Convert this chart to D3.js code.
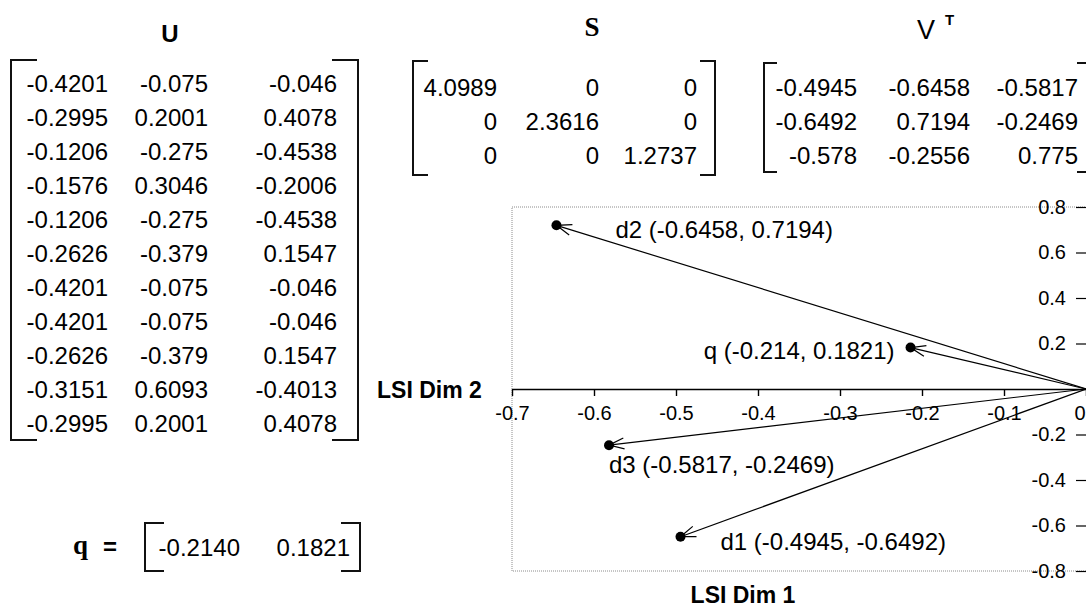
<!DOCTYPE html>
<html>
<head>
<meta charset="utf-8">
<script src="https://cdn.jsdelivr.net/npm/d3@7"></script>
<style>
  html, body { margin: 0; padding: 0; background: #fff; }
  svg { display: block; font-family: "Liberation Sans", Arial, sans-serif; }
  .cell { font-size: 24px; fill: #000; }
  .tick text { font-size: 20px; fill: #000; font-family: "Liberation Sans", Arial, sans-serif; }
</style>
</head>
<body>
<div id="chart"></div>
<script>
// --- datos: descomposición SVD (U, S, V^T), consulta q y puntos del plano LSI ---
const uRows = [
  [-0.4201, -0.075, -0.046],
  [-0.2995, 0.2001, 0.4078],
  [-0.1206, -0.275, -0.4538],
  [-0.1576, 0.3046, -0.2006],
  [-0.1206, -0.275, -0.4538],
  [-0.2626, -0.379, 0.1547],
  [-0.4201, -0.075, -0.046],
  [-0.4201, -0.075, -0.046],
  [-0.2626, -0.379, 0.1547],
  [-0.3151, 0.6093, -0.4013],
  [-0.2995, 0.2001, 0.4078],
];
const sRows = [
  [4.0989, 0, 0],
  [0, 2.3616, 0],
  [0, 0, 1.2737],
];
const vtRows = [
  [-0.4945, -0.6458, -0.5817],
  [-0.6492, 0.7194, -0.2469],
  [-0.578, -0.2556, 0.775],
];
const qRow = [-0.2140, 0.1821];

const pointNames = ["d1", "d2", "d3", "q"];
const pointX = [-0.4945, -0.6458, -0.5817, -0.214];
const pointY = [-0.6492, 0.7194, -0.2469, 0.1821];

const xTicks = [-0.7, -0.6, -0.5, -0.4, -0.3, -0.2, -0.1, 0];
const yTicks = [-0.8, -0.6, -0.4, -0.2, 0.2, 0.4, 0.6, 0.8];

const W = 1086, H = 609;
const svg = d3.select("#chart").append("svg").attr("width", W).attr("height", H);

// guion ASCII en vez del signo menos tipográfico de d3.format
const tick1 = d => d === 0 ? "0" : d.toFixed(1);
const fix4 = v => v.toFixed(4);

/* Matriz con corchetes: caja (left..right, top..bottom), columnas alineadas a la derecha */
function drawMatrix(rows, o) {
  const g = svg.append("g");
  const s = o.serif;
  const br = `M${o.left + s},${o.top}H${o.left}V${o.bottom}H${o.left + s}` +
             `M${o.right - s},${o.top}H${o.right}V${o.bottom}H${o.right - s}`;
  g.append("path").attr("d", br).attr("fill", "none").attr("stroke", "#111").attr("stroke-width", 2);
  rows.forEach((r, i) => {
    r.forEach((v, j) => {
      g.append("text").attr("class", "cell")
        .attr("x", o.colEnds[j]).attr("y", o.row0 + i * o.step + 8.6)
        .attr("text-anchor", "end")
        .text(o.fmt ? o.fmt(v) : String(v));
    });
  });
  return g;
}

// títulos
svg.append("text").attr("x", 170).attr("y", 42).attr("text-anchor", "middle")
  .attr("font-size", 24).attr("font-weight", "bold").text("U");
svg.append("text").attr("x", 592).attr("y", 36).attr("text-anchor", "middle")
  .attr("font-family", "'Liberation Serif', 'Times New Roman', serif")
  .attr("font-size", 27).attr("font-weight", "bold").text("S");
svg.append("text").attr("x", 917).attr("y", 39).attr("font-size", 27).text("V");
svg.append("text").attr("x", 945).attr("y", 25).attr("font-size", 15).attr("font-weight", "bold").text("T");

drawMatrix(uRows, { left: 11, right: 358, top: 60, bottom: 440, serif: 26,
  colEnds: [108, 208, 337], row0: 83, step: 34 });
drawMatrix(sRows, { left: 413, right: 715, top: 61, bottom: 175, serif: 15,
  colEnds: [497, 599, 697], row0: 87, step: 34 });
drawMatrix(vtRows, { left: 764, right: 1090, top: 63, bottom: 172, serif: 13,
  colEnds: [857, 970, 1078], row0: 87, step: 34 });

// q = [ ... ]
svg.append("text").attr("x", 73).attr("y", 554)
  .attr("font-family", "'Liberation Serif', 'Times New Roman', serif")
  .attr("font-size", 27).attr("font-weight", "bold").text("q");
svg.append("text").attr("x", 103).attr("y", 555).attr("font-size", 24).attr("font-weight", "bold").text("=");
drawMatrix([qRow], { left: 145, right: 360, top: 523, bottom: 571, serif: 19,
  colEnds: [240, 350], row0: 547, step: 0, fmt: fix4 });

// --- gráfico LSI ---------------------------------------------------------
const x = d3.scaleLinear().domain([-0.7, 0]).range([512, 1086]);
const y = d3.scaleLinear().domain([-0.8, 0.8]).range([571, 207]);

// marco punteado
svg.append("rect").attr("x", x(-0.7)).attr("y", y(0.8))
  .attr("width", 620).attr("height", y(-0.8) - y(0.8))
  .attr("fill", "none").attr("stroke", "#8c8c8c").attr("stroke-width", 1)
  .attr("stroke-dasharray", "1,1");

// eje X (en y=0)
const xAxis = svg.append("g").attr("transform", `translate(0,${y(0)})`)
  .call(d3.axisBottom(x).tickValues(xTicks).tickSize(7).tickSizeOuter(0).tickPadding(10)
    .tickFormat(tick1));
xAxis.select(".domain").attr("stroke", "#000").attr("stroke-width", 1.6);
xAxis.selectAll(".tick line").attr("stroke", "#000").attr("stroke-width", 1.4);
// la etiqueta "0" del borde derecho, hacia dentro para que quepa
xAxis.selectAll(".tick text").filter(d => d === 0).attr("text-anchor", "end").attr("dx", -1);

// eje Y (a la derecha, sin línea de dominio)
const yAxis = svg.append("g").attr("transform", `translate(${x(0)},0)`)
  .call(d3.axisLeft(y).tickValues(yTicks).tickSize(10).tickPadding(10).tickFormat(tick1));
yAxis.select(".domain").remove();
yAxis.selectAll(".tick line").attr("stroke", "#000").attr("stroke-width", 1.2);

// títulos de ejes
svg.append("text").attr("x", 377).attr("y", 398).attr("font-size", 23)
  .attr("font-weight", "bold").text("LSI Dim 2");
svg.append("text").attr("x", 743).attr("y", 603).attr("text-anchor", "middle")
  .attr("font-size", 23).attr("font-weight", "bold").text("LSI Dim 1");

// vectores desde el origen con punta abierta
const labelPos = {
  d1: { dx: 40, dy: 13, anchor: "start" },
  d2: { dx: 59, dy: 13, anchor: "start" },
  d3: { dx: 0, dy: 28, anchor: "start" },
  q:  { dx: -16, dy: 11, anchor: "end" },
};
const vecs = svg.append("g");
const ox = x(0), oy = y(0);
pointNames.forEach((name, i) => {
  const px = x(pointX[i]), py = y(pointY[i]);
  vecs.append("line").attr("x1", ox).attr("y1", oy).attr("x2", px).attr("y2", py)
    .attr("stroke", "#000").attr("stroke-width", 1.2);
  const a = Math.atan2(oy - py, ox - px), L = 16, sp = 20 * Math.PI / 180;
  const head = `M${px + L * Math.cos(a - sp)},${py + L * Math.sin(a - sp)}L${px},${py}` +
               `L${px + L * Math.cos(a + sp)},${py + L * Math.sin(a + sp)}`;
  vecs.append("path").attr("d", head).attr("fill", "none").attr("stroke", "#000").attr("stroke-width", 1.2);
  vecs.append("circle").attr("cx", px).attr("cy", py).attr("r", 5).attr("fill", "#000");
  const lp = labelPos[name];
  vecs.append("text").attr("class", "cell")
    .attr("x", px + lp.dx).attr("y", py + lp.dy).attr("text-anchor", lp.anchor)
    .text(`${name} (${pointX[i]}, ${pointY[i]})`);
});
</script>
</body>
</html>
